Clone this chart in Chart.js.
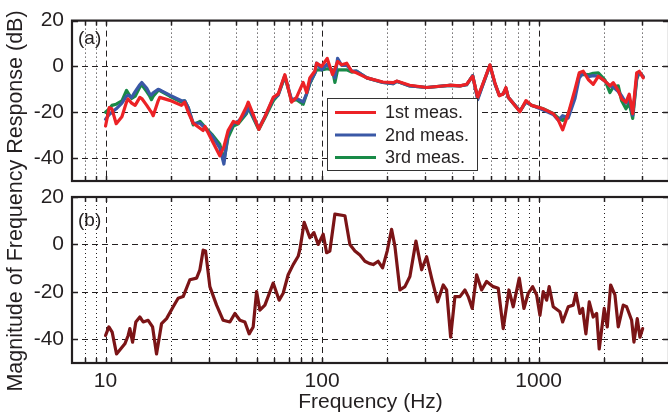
<!DOCTYPE html>
<html>
<head>
<meta charset="utf-8">
<script src="https://cdn.jsdelivr.net/npm/chart.js@4.4.0/dist/chart.umd.min.js"></script>
<style>
  html, body { margin: 0; padding: 0; background: #fff; overflow: hidden; }
  #wrap { position: relative; width: 668px; height: 416px; overflow: hidden; background: #fff; }
  #wrap canvas { position: absolute; left: 0; top: 0; }
</style>
</head>
<body>
<div id="wrap">
  <canvas id="chartA" width="672" height="416"></canvas>
  <canvas id="chartB" width="672" height="416"></canvas>
</div>
<script>
// panel (a): three measurements, frequency in Hz, magnitude in dB
const freqTop = [10, 10.4, 10.7, 11.2, 11.9, 12.5, 12.7, 13.2, 13.7, 14.4, 14.7, 15.5, 16.0, 16.3, 16.6,
  17.5, 17.8, 19.8, 22.4, 23.2, 24.1, 25.4, 27.3, 28.2, 28.8, 30.9, 33.7, 35.2, 36.8, 38.9,
  41.0, 44.8, 45.6, 48.1, 51.0, 54.4, 59.5, 62.7, 67.3, 72.3, 76.2, 81.8, 84.8, 87.8, 92.6,
  94.3, 99.5, 105.6, 111.8, 114.6, 117.9, 123, 130, 137, 144, 161, 191, 213, 221, 254,
  304, 389, 433, 465, 496, 523, 555, 596, 628, 658, 686, 706, 724, 820, 874,
  928, 1050, 1168, 1232, 1291, 1370, 1472, 1540, 1607, 1695, 1787, 1886, 2025, 2135, 2211,
  2332, 2418, 2531, 2621, 2719, 2837, 2916, 3042];

const meas1 = [-26, -18, -18.5, -25, -22, -15.5, -14.2, -16, -17, -13.5, -14, -17, -19, -20, -21.5,
  -15, -13.5, -14.8, -17, -15.6, -20, -24.8, -27, -28, -26.2, -32, -39, -35, -28, -24,
  -24.8, -17.5, -15.6, -21, -27.5, -22, -13.5, -12, -3.6, -15.6, -13.5, -7, -11.4, -5, -2,
  1.4, 0, 3.5, -3.6, -1, 2.1, 0.7, 1.4, -2.1, -2.8, -5, -6.8, -7.1, -6.4, -8.2,
  -9.2, -8.2, -8.5, -7.8, -4.3, -13.5, -7.1, 0.7, -7.1, -12.8, -12, -9.2, -13.5, -19.8, -14.9,
  -17, -18.5, -20.6, -23.4, -27.7, -20.6, -10, -2.8, -2.1, -5.7, -7.8, -4.3, -6.4, -8.5, -7.1,
  -10.6, -14.2, -15.6, -12.1, -20.6, -2.8, -2.1, -5];

const meas2 = [-23, -21, -20, -18.5, -16, -13, -12.5, -13.5, -11, -8, -7, -9.5, -12, -12.5, -11.5,
  -10, -10.2, -12.5, -15, -15, -18, -24.8, -24.8, -26, -27, -30, -35.5, -42.6, -29, -25,
  -24, -20, -17.5, -22, -27, -22, -14, -12.5, -4, -14.5, -14, -15.5, -12, -7, -3,
  1.5, -1.5, 1, -2, -5, 3.5, 0.5, 0.5, -2, -2, -5, -7, -7.5, -6.5, -8.5,
  -9.2, -8.3, -8.5, -8, -4, -14.5, -7.5, 0.5, -7.5, -12.5, -12, -9.5, -13.5, -19.5, -15.5,
  -17, -19, -21, -23.5, -21.5, -22.5, -14, -5, -2.8, -4.5, -4, -4.3, -6.5, -8.5, -9,
  -11, -12.8, -16, -14, -21.3, -5, -2.5, -4.5];

const meas3 = [-20, -18.5, -17, -16.5, -15, -10.5, -11.5, -14, -13, -9, -8, -11, -13, -14.5, -13,
  -10.5, -10.5, -13, -15.5, -15, -18, -25.5, -24, -25.5, -26.5, -29.5, -34, -41, -31, -26,
  -25, -20.5, -18, -22.5, -27.5, -22.5, -15, -12.5, -4.5, -15, -14.5, -16.5, -12, -7.5, -3,
  -1.5, -1.5, -1, -1.5, -7, -1.5, -1.5, -1.5, -2.5, -2, -5, -7, -7.5, -6.5, -8.5,
  -9.2, -8.3, -8.5, -8, -4, -14, -7.5, 0.5, -7.5, -12.5, -12, -9.5, -13.5, -19.5, -15.5,
  -17, -18.5, -20.5, -22.5, -23.5, -21, -12, -3.6, -3.5, -3.6, -3, -2.8, -6, -11.4, -9,
  -8.5, -15, -18.5, -16, -22.7, -5.7, -2.5, -4.5];

// panel (b)
const freqBottom = [10, 10.36, 10.73, 11.24, 12.28, 12.72, 12.95, 13.33, 13.8, 14.4, 14.92, 15.73, 16.49, 17.2, 18.14,
  19.13, 20.53, 21.64, 22.83, 24.51, 26.33, 27.27, 28.24, 28.97, 30.32, 32.56, 34.93, 37.51, 39.56, 41.73,
  44.0, 46.06, 48.06, 49.83, 51.61, 54.44, 59.45, 63.36, 66.11, 69.71, 73.54, 77.55, 78.97, 82.66, 87.82,
  91.65, 95.94, 101.2, 104.9, 108.6, 114.6, 127.5, 134.4, 141.8, 149.5, 157.7, 165, 172.2, 181.6, 190.3,
  199.8, 209.4, 216.9, 228.8, 241.3, 254.4, 271.3, 288.2, 303.9, 320.5, 341.6, 362.6, 375.8, 392.3, 410.6,
  433.1, 456.7, 473, 493.6, 517.2, 545.5, 575.3, 617.1, 650.9, 686.3, 729.3, 763.5, 813.6, 855.3, 895.4,
  938.3, 979, 1014, 1050, 1089, 1119, 1168, 1254, 1291, 1370, 1445, 1487, 1551, 1596, 1653,
  1713, 1787, 1853, 1905, 2009, 2075, 2151, 2251, 2332, 2459, 2549, 2689, 2756, 2854, 2937, 3023];

const diffBottom = [-38.4, -34.8, -37, -46.2, -41.9, -38.4, -35.5, -41.2, -32.7, -30.6, -32.7, -32, -34.8, -46.2, -33.4,
  -31.3, -26.3, -22.7, -22, -14.9, -14.2, -10.7, -2.4, -2.8, -17.8, -25.6, -32, -32.7, -29.1, -32,
  -32.7, -37.7, -34.8, -19.9, -27.7, -25.6, -16.3, -23.5, -20.6, -12.8, -8.5, -5, -2.1, 9.3, 2.8,
  5, 0, 4.3, -3.5, -2.8, 12.8, 12.1, 0, -2.8, -4.5, -7.1, -8, -8.5, -7.1, -9.9,
  -2.8, 6.4, -0.7, -19.2, -17.8, -13.5, 1.4, -10.7, -5.2, -14.2, -24.2, -17.1, -19.2, -39.1, -22,
  -22, -19.2, -22, -27, -12.8, -19.2, -15.6, -17.8, -18.5, -35.5, -19.2, -26.3, -14.2, -27, -20.6,
  -17.8, -21.3, -29.9, -19.9, -23.5, -17.8, -26.3, -28.4, -32.7, -26.3, -25.6, -20.6, -29.1, -27, -37.7,
  -24.2, -30.6, -29.1, -44.1, -27, -34.8, -17.1, -21.3, -34.8, -25.6, -26.3, -32, -41.2, -31.3, -39.1, -35.5];

const seriesLabels = ['1st meas.', '2nd meas.', '3rd meas.'];
const xTickLabels = [10, 100, 1000];
const yTickLabels = [-40, -20, 0, 20];
const gridFreqs = [8, 9, 10, 20, 30, 40, 50, 60, 70, 80, 90, 100, 200, 300, 400, 500, 600, 700, 800, 900,
  1000, 2000, 3000];
const decades = [10, 100, 1000];

const INK = '#231f20';
const FONT = "'Liberation Sans', Arial, sans-serif";

function toPoints(xs, ys) {
  return xs.map((x, i) => ({ x: x, y: ys[i] }));
}

// grid, frame and the little inward ticks, like the matlab style axes
function framePlugin(panelLabel, labelY) {
  return {
    id: 'frame',
    beforeDatasetsDraw(chart) {
      const ctx = chart.ctx;
      const a = chart.chartArea;
      const xs = chart.scales.x;
      const ys = chart.scales.y;
      ctx.save();
      ctx.strokeStyle = INK;
      ctx.lineWidth = 1;
      gridFreqs.forEach((f) => {
        const px = Math.round(xs.getPixelForValue(f)) + 0.5;
        ctx.setLineDash(decades.includes(f) ? [6, 4] : [1, 3]);
        ctx.beginPath();
        ctx.moveTo(px, a.top);
        ctx.lineTo(px, a.bottom);
        ctx.stroke();
      });
      ctx.setLineDash([6, 4]);
      yTickLabels.forEach((v) => {
        if (v === 20) return;
        const py = Math.round(ys.getPixelForValue(v)) + 0.5;
        ctx.beginPath();
        ctx.moveTo(a.left, py);
        ctx.lineTo(a.right, py);
        ctx.stroke();
      });
      ctx.restore();
    },
    afterDatasetsDraw(chart) {
      const ctx = chart.ctx;
      const a = chart.chartArea;
      const xs = chart.scales.x;
      const ys = chart.scales.y;
      ctx.save();
      ctx.strokeStyle = INK;
      ctx.setLineDash([]);
      ctx.lineWidth = 1.5;
      gridFreqs.forEach((f) => {
        const px = Math.round(xs.getPixelForValue(f)) + 0.5;
        ctx.beginPath();
        ctx.moveTo(px, a.bottom); ctx.lineTo(px, a.bottom - 5);
        ctx.moveTo(px, a.top); ctx.lineTo(px, a.top + 5);
        ctx.stroke();
      });
      yTickLabels.forEach((v) => {
        const py = Math.round(ys.getPixelForValue(v)) + 0.5;
        ctx.beginPath();
        ctx.moveTo(a.left, py); ctx.lineTo(a.left + 6, py);
        ctx.moveTo(a.right, py); ctx.lineTo(a.right - 6, py);
        ctx.stroke();
      });
      ctx.lineWidth = 2.2;
      ctx.strokeRect(a.left, a.top, a.right - a.left, a.bottom - a.top);

      ctx.fillStyle = INK;
      ctx.font = '19px ' + FONT;
      ctx.textAlign = 'left';
      ctx.textBaseline = 'middle';
      ctx.fillText(panelLabel, a.left + 6, labelY);
      ctx.restore();
    }
  };
}

const legendPlugin = {
  id: 'boxLegend',
  afterDraw(chart) {
    const ctx = chart.ctx;
    ctx.save();
    ctx.fillStyle = '#fff';
    ctx.fillRect(327.5, 98.5, 150, 72);
    ctx.strokeStyle = '#333';
    ctx.lineWidth = 1;
    ctx.strokeRect(327.5, 98.5, 150, 72);
    ctx.font = '18px ' + FONT;
    ctx.textBaseline = 'middle';
    ctx.textAlign = 'left';
    chart.data.datasets.forEach((ds, i) => {
      const y = 112.5 + i * 22.5;
      ctx.strokeStyle = ds.borderColor;
      ctx.lineWidth = 3.2;
      ctx.beginPath();
      ctx.moveTo(335, y);
      ctx.lineTo(376, y);
      ctx.stroke();
      ctx.fillStyle = INK;
      ctx.fillText(ds.label, 385, y + 1);
    });
    ctx.restore();
  }
};

const yTitlePlugin = {
  id: 'yTitle',
  afterDraw(chart) {
    const ctx = chart.ctx;
    ctx.save();
    ctx.translate(16, 201);
    ctx.rotate(-Math.PI / 2);
    ctx.fillStyle = INK;
    ctx.font = '21.5px ' + FONT;
    ctx.textAlign = 'center';
    ctx.textBaseline = 'middle';
    ctx.fillText('Magnitude of Frequency Response (dB)', 0, 0);
    ctx.restore();
  }
};

function yAxis() {
  return {
    type: 'linear',
    min: -50,
    max: 20,
    afterBuildTicks: (scale) => { scale.ticks = yTickLabels.map((v) => ({ value: v })); },
    afterFit: (scale) => { scale.width = 72; },
    ticks: { color: INK, font: { family: FONT, size: 21 }, padding: 8, callback: (v) => String(v) },
    grid: { display: false, drawTicks: false },
    border: { display: false }
  };
}

const lineStyle = { borderWidth: 3.2, pointRadius: 0, tension: 0, fill: false,
  borderJoinStyle: 'round', borderCapStyle: 'round' };

new Chart(document.getElementById('chartA'), {
  type: 'line',
  data: {
    datasets: [
      Object.assign({ label: seriesLabels[0], data: toPoints(freqTop, meas1), borderColor: '#ec2226' }, lineStyle),
      Object.assign({ label: seriesLabels[1], data: toPoints(freqTop, meas2), borderColor: '#3a58a6' }, lineStyle),
      Object.assign({ label: seriesLabels[2], data: toPoints(freqTop, meas3), borderColor: '#188a47' }, lineStyle)
    ]
  },
  options: {
    responsive: false,
    animation: false,
    devicePixelRatio: 1,
    layout: { padding: { top: 16, right: 3, bottom: 416 - 181, left: 0 } },
    plugins: { legend: { display: false }, tooltip: { enabled: false } },
    scales: {
      x: { type: 'logarithmic', min: 7, max: 4000, display: false },
      y: yAxis()
    }
  },
  plugins: [framePlugin('(a)', 39), legendPlugin]
});

new Chart(document.getElementById('chartB'), {
  type: 'line',
  data: {
    datasets: [
      Object.assign({ label: 'difference', data: toPoints(freqBottom, diffBottom), borderColor: '#7b1416' }, lineStyle)
    ]
  },
  options: {
    responsive: false,
    animation: false,
    devicePixelRatio: 1,
    layout: { padding: { top: 197, right: 3, bottom: 0, left: 0 } },
    plugins: { legend: { display: false }, tooltip: { enabled: false } },
    scales: {
      x: {
        type: 'logarithmic',
        min: 7,
        max: 4000,
        afterBuildTicks: (scale) => { scale.ticks = xTickLabels.map((v) => ({ value: v })); },
        afterFit: (scale) => { scale.height = 53; },
        ticks: { color: INK, font: { family: FONT, size: 21 }, padding: 6, maxRotation: 0, autoSkip: false,
          callback: (v) => String(v) },
        grid: { display: false, drawTicks: false },
        border: { display: false },
        title: { display: true, text: 'Frequency (Hz)', color: INK, font: { family: FONT, size: 21 },
          padding: { top: 0, bottom: 1 } }
      },
      y: yAxis()
    }
  },
  plugins: [framePlugin('(b)', 221), yTitlePlugin]
});
</script>
</body>
</html>
